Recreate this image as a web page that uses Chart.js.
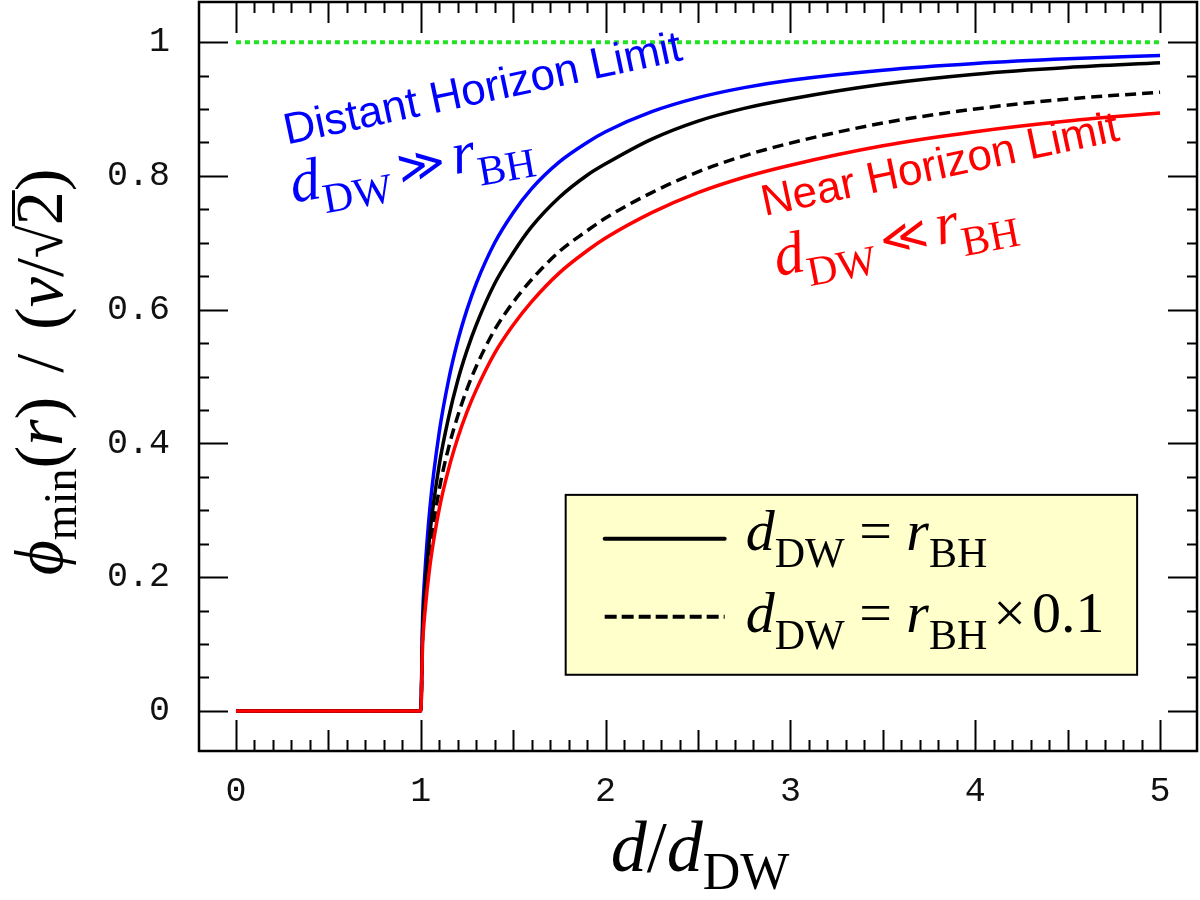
<!DOCTYPE html>
<html>
<head>
<meta charset="utf-8">
<script src="https://cdn.jsdelivr.net/npm/chart.js@4.4.1/dist/chart.umd.min.js"></script>
<style>
  html, body { margin: 0; background: #fff; }
</style>
</head>
<body>
<canvas id="phi" width="1200" height="900"></canvas>
<script>
// d / d_DW samples
const xs = [0, 1, 1.01, 1.02, 1.05, 1.1, 1.15, 1.2, 1.25, 1.3, 1.4, 1.5, 1.6, 1.75, 1.9, 2, 2.25, 2.5, 2.75, 3, 3.5, 4, 4.5, 5]
// phi_min / (v/sqrt2)
const nearLimit    = [0, 0, 0.100, 0.140, 0.218, 0.302, 0.361, 0.408, 0.447, 0.480, 0.535, 0.577, 0.612, 0.655, 0.688, 0.707, 0.745, 0.775, 0.798, 0.816, 0.845, 0.866, 0.882, 0.894]
const dwTenth      = [0, 0, 0.112, 0.156, 0.241, 0.331, 0.393, 0.441, 0.481, 0.515, 0.570, 0.611, 0.645, 0.687, 0.718, 0.737, 0.775, 0.806, 0.830, 0.849, 0.879, 0.900, 0.915, 0.925]
const dwEqual      = [0, 0, 0.122, 0.171, 0.267, 0.368, 0.438, 0.494, 0.539, 0.577, 0.639, 0.685, 0.724, 0.768, 0.801, 0.818, 0.855, 0.882, 0.901, 0.915, 0.937, 0.952, 0.962, 0.969]
const distantLimit = [0, 0, 0.140, 0.196, 0.305, 0.417, 0.494, 0.553, 0.600, 0.639, 0.700, 0.745, 0.781, 0.821, 0.850, 0.866, 0.896, 0.917, 0.932, 0.943, 0.958, 0.968, 0.975, 0.980]
const vevX = [0, 5]
const vevY = [1, 1]

const xTickValues = [0, 1, 2, 3, 4, 5]
const yTickValues = [0, 0.2, 0.4, 0.6, 0.8, 1]

const SERIF = '"Liberation Serif", "Times New Roman", serif'
const SANS = '"Liberation Sans", Arial, sans-serif'

const pts = (ys, xv = xs) => xv.map((x, i) => ({x, y: ys[i]}))

// draw a run of text pieces (for subscripts / italics), optionally rotated
function rich(ctx, x, y, angle, parts, color, center) {
    ctx.save()
    ctx.translate(x, y)
    ctx.rotate(angle * Math.PI / 180)
    ctx.fillStyle = color
    ctx.textAlign = 'left'
    ctx.textBaseline = 'alphabetic'
    let total = 0
    for (const p of parts) {
        ctx.font = p.f
        total += ctx.measureText(p.t).width + (p.gap || 0)
    }
    let cx = center ? -total / 2 : 0
    for (const p of parts) {
        ctx.font = p.f
        const m = ctx.measureText(p.t)
        ctx.fillText(p.t, cx, p.dy || 0)
        if (p.over) {
            ctx.fillRect(cx - 1, -p.over, m.width + 2, p.overW || 3)
        }
        cx += m.width + (p.gap || 0)
    }
    ctx.restore()
}

const frameTicks = {
    id: 'frameTicks',
    afterDraw(chart) {
        const {ctx, chartArea: a, scales: {x, y}} = chart
        ctx.save()
        ctx.strokeStyle = '#000'
        ctx.lineWidth = 2
        ctx.beginPath()
        for (let i = 0; i <= 50; i++) {
            const px = Math.round(x.getPixelForValue(i / 10)) + 0.5
            const len = i % 10 === 0 ? 31 : (i % 5 === 0 ? 21 : 11)
            ctx.moveTo(px, a.bottom); ctx.lineTo(px, a.bottom - len)
            ctx.moveTo(px, a.top); ctx.lineTo(px, a.top + len)
        }
        for (let i = 0; i <= 20; i++) {
            const py = Math.round(y.getPixelForValue(i * 0.05)) + 0.5
            const len = i % 4 === 0 ? 29 : 10
            ctx.moveTo(a.left, py); ctx.lineTo(a.left + len, py)
            ctx.moveTo(a.right, py); ctx.lineTo(a.right - len, py)
        }
        ctx.stroke()
        ctx.lineWidth = 2.5
        ctx.strokeRect(a.left, a.top, a.right - a.left, a.bottom - a.top)
        ctx.restore()
    }
}

const notes = {
    id: 'notes',
    afterDraw(chart) {
        const {ctx, scales: {x, y}} = chart
        const X = v => x.getPixelForValue(v), Y = v => y.getPixelForValue(v)

        // curve labels
        ctx.save()
        rich(ctx, X(0.276), Y(0.847), -12, [{t: 'Distant Horizon Limit', f: `44px ${SANS}`}], '#0000ff')
        rich(ctx, X(0.31), Y(0.76), -10, [
            {t: 'd', f: `italic 60px ${SERIF}`},
            {t: 'DW', f: `42px ${SERIF}`, dy: 16, gap: 8},
            {t: '\u226B', f: `46px ${SERIF}`, gap: 8},
            {t: 'r', f: `italic 60px ${SERIF}`},
            {t: 'BH', f: `42px ${SERIF}`, dy: 16}
        ], '#0000ff')
        rich(ctx, X(2.86), Y(0.74), -12, [{t: 'Near Horizon Limit', f: `44px ${SANS}`}], '#ff0000')
        rich(ctx, X(2.93), Y(0.65), -11, [
            {t: 'd', f: `italic 60px ${SERIF}`},
            {t: 'DW', f: `42px ${SERIF}`, dy: 16, gap: 8},
            {t: '\u226A', f: `46px ${SERIF}`, gap: 8},
            {t: 'r', f: `italic 60px ${SERIF}`},
            {t: 'BH', f: `42px ${SERIF}`, dy: 16}
        ], '#ff0000')

        // legend box
        const bx0 = X(1.784), bx1 = X(4.876), by0 = Y(0.323), by1 = Y(0.054)
        ctx.fillStyle = '#ffffcc'
        ctx.fillRect(bx0, by0, bx1 - bx0, by1 - by0)
        ctx.strokeStyle = '#000'
        ctx.lineWidth = 2
        ctx.strokeRect(bx0, by0, bx1 - bx0, by1 - by0)

        const lx0 = bx0 + 39, lx1 = bx0 + 159
        const row1 = by0 + 44, row2 = by0 + 122
        ctx.lineWidth = 4
        ctx.lineCap = 'round'
        ctx.beginPath(); ctx.moveTo(lx0, row1); ctx.lineTo(lx1, row1); ctx.stroke()
        ctx.lineCap = 'butt'
        ctx.setLineDash([12, 5])
        ctx.beginPath(); ctx.moveTo(lx0, row2); ctx.lineTo(lx1, row2); ctx.stroke()
        ctx.setLineDash([])

        const eq = [
            {t: 'd', f: `italic 58px ${SERIF}`},
            {t: 'DW', f: `42px ${SERIF}`, dy: 17},
            {t: ' = ', f: `58px ${SERIF}`},
            {t: 'r', f: `italic 58px ${SERIF}`},
            {t: 'BH', f: `42px ${SERIF}`, dy: 17, gap: 6}
        ]
        rich(ctx, bx0 + 180, row1 + 11, 0, eq, '#000')
        rich(ctx, bx0 + 180, row2 + 15, 0, eq.concat([
            {t: '\u00D7', f: `58px ${SERIF}`, gap: 6},
            {t: '0.1', f: `58px ${SERIF}`}
        ]), '#000')

        // axis titles
        rich(ctx, 700, 871, 0, [
            {t: 'd', f: `italic 72px ${SERIF}`},
            {t: '/', f: `72px ${SERIF}`},
            {t: 'd', f: `italic 72px ${SERIF}`},
            {t: 'DW', f: `52px ${SERIF}`, dy: 18}
        ], '#000', true)
        ctx.save()
        ctx.translate(62, 372)
        rich(ctx, 0, 0, -90, [
            {t: '\u03D5', f: `italic 68px ${SERIF}`},
            {t: 'min', f: `46px ${SERIF}`, dy: 14},
            {t: '(', f: `68px ${SERIF}`},
            {t: 'r', f: `italic 68px ${SERIF}`},
            {t: ')', f: `68px ${SERIF}`, gap: 24},
            {t: '/', f: `68px ${SERIF}`, gap: 24},
            {t: '(', f: `68px ${SERIF}`},
            {t: 'v', f: `italic 68px ${SERIF}`},
            {t: '/', f: `68px ${SERIF}`},
            {t: '\u221A', f: `60px ${SERIF}`},
            {t: '2', f: `68px ${SERIF}`, over: 50, overW: 3},
            {t: ')', f: `68px ${SERIF}`}
        ], '#000', true)
        ctx.restore()
        ctx.restore()
    }
}

const line = (label, ys, color, extra = {}) => Object.assign({
    label,
    data: pts(ys),
    borderColor: color,
    borderWidth: 3.5,
    pointRadius: 0,
    fill: false,
    cubicInterpolationMode: 'monotone',
    borderJoinStyle: 'round'
}, extra)

new Chart(document.getElementById('phi'), {
    type: 'line',
    data: {
        datasets: [
            line('Near horizon limit', nearLimit, '#ff0000'),
            line('d_DW = r_BH x 0.1', dwTenth, '#000000', {borderDash: [11, 6]}),
            line('d_DW = r_BH', dwEqual, '#000000'),
            line('Distant horizon limit', distantLimit, '#0000ff'),
            line('v/sqrt2', vevY, '#22e322', {data: pts(vevY, vevX), borderDash: [5, 4], borderWidth: 4, cubicInterpolationMode: 'default'})
        ]
    },
    options: {
        responsive: false,
        animation: false,
        layout: {padding: {top: 2, right: 3, left: 0, bottom: 0}},
        plugins: {legend: {display: false}, tooltip: {enabled: false}},
        scales: {
            x: {
                type: 'linear', min: -0.2, max: 5.2,
                grid: {display: false, drawTicks: false},
                border: {display: false},
                afterBuildTicks: s => { s.ticks = xTickValues.map(v => ({value: v})) },
                afterFit: s => { s.height = 149; s.paddingLeft = 0; s.paddingRight = 0 },
                ticks: {
                    padding: 20, color: '#111',
                    font: {family: '"Liberation Mono", "Courier New", monospace', size: 35},
                    callback: v => String(v)
                }
            },
            y: {
                type: 'linear', min: -0.06, max: 1.06,
                grid: {display: false, drawTicks: false},
                border: {display: false},
                afterBuildTicks: s => { s.ticks = yTickValues.map(v => ({value: v})) },
                afterFit: s => { s.width = 199; s.paddingTop = 0; s.paddingBottom = 0 },
                ticks: {
                    padding: 29, color: '#111',
                    font: {family: '"Liberation Mono", "Courier New", monospace', size: 35},
                    callback: v => (v === 0 || v === 1) ? String(v) : v.toFixed(1)
                }
            }
        }
    },
    plugins: [frameTicks, notes]
})
</script>
</body>
</html>
